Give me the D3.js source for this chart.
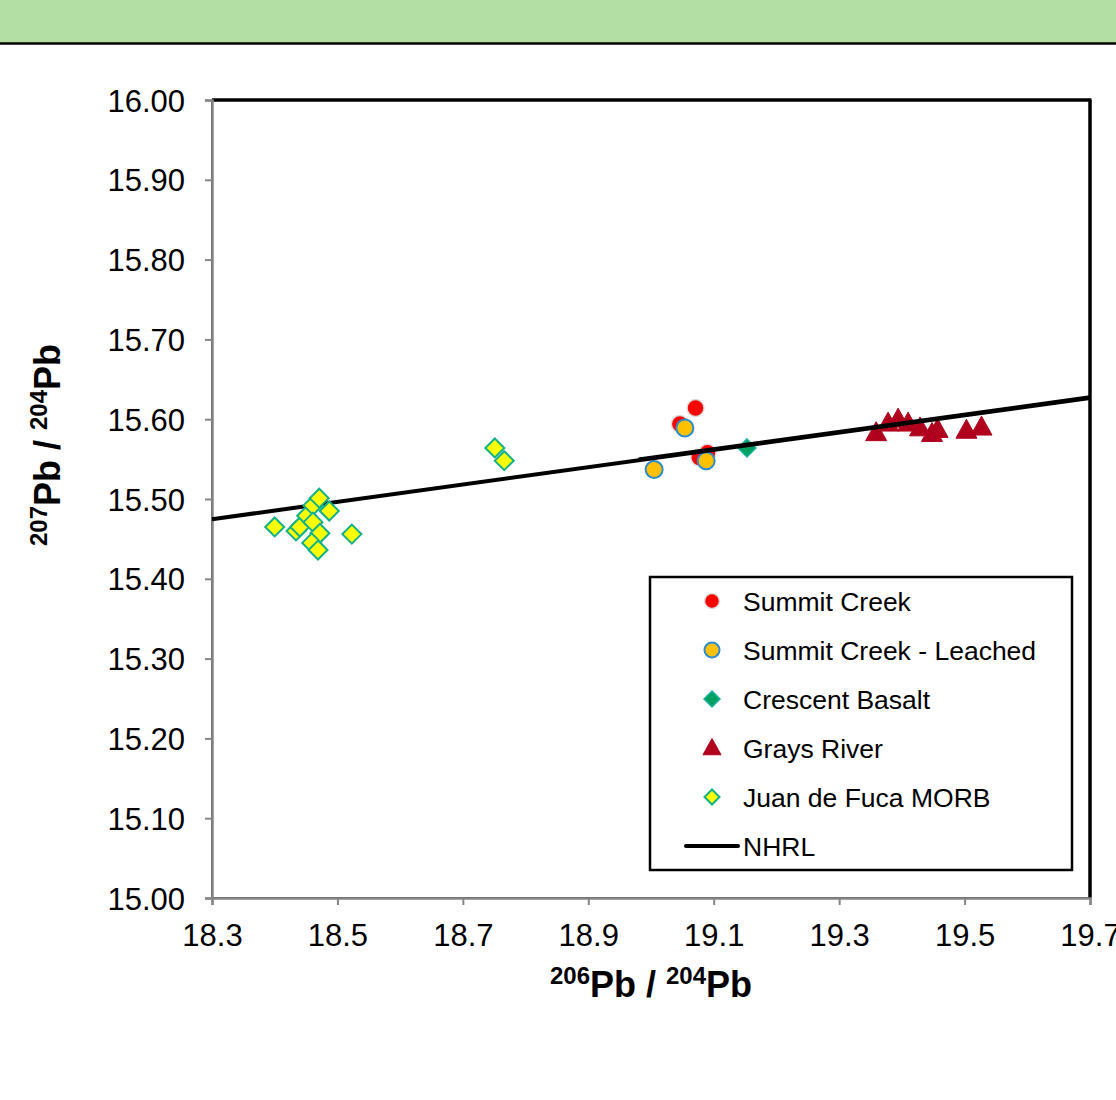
<!DOCTYPE html>
<html>
<head>
<meta charset="utf-8">
<script src="https://cdn.jsdelivr.net/npm/d3@7"></script>
<style>
  body { margin: 0; background: #fff; }
  text { font-family: "Liberation Sans", Arial, sans-serif; }
</style>
</head>
<body>
<div class="canva"></div>
<script>
// data
const xTicks = [18.3, 18.5, 18.7, 18.9, 19.1, 19.3, 19.5, 19.7];
const yTicks = [15.0, 15.1, 15.2, 15.3, 15.4, 15.5, 15.6, 15.7, 15.8, 15.9, 16.0];

const summitX = [19.071, 19.046, 19.090, 19.077];
const summitY = [15.614, 15.594, 15.558, 15.552];

const leachedX = [19.054, 19.005, 19.088];
const leachedY = [15.589, 15.537, 15.548];

const crescentX = [19.153];
const crescentY = [15.564];

const graysX = [19.359, 19.378, 19.394, 19.410, 19.429, 19.448, 19.457, 19.503, 19.527];
const graysY = [15.583, 15.595, 15.600, 15.595, 15.589, 15.582, 15.587, 15.586, 15.590];

const morbX = [18.400, 18.434, 18.440, 18.451, 18.461, 18.471, 18.487, 18.461, 18.472, 18.459, 18.469, 18.523, 18.751, 18.766];
const morbY = [15.465, 15.460, 15.465, 15.479, 15.492, 15.501, 15.485, 15.471, 15.457, 15.445, 15.436, 15.456, 15.564, 15.548];

// NHRL: 207/204 = 0.1084 * 206/204 + 13.491
const nhrlX = [18.3, 19.7];
const nhrlY = [15.4747, 15.6265];
const nhrlShortX = [18.98, 19.7];
const nhrlShortY = [15.5484, 15.6265];

const legendLabels = ["Summit Creek", "Summit Creek - Leached", "Crescent Basalt", "Grays River", "Juan de Fuca MORB", "NHRL"];

const svg = d3.select(".canva").append("svg")
  .attr("width", 1116)
  .attr("height", 1100);

// green banner on top
svg.append("rect").attr("x", 0).attr("y", 0).attr("width", 1116).attr("height", 43).attr("fill", "#b3dfa5");
svg.append("line").attr("x1", 0).attr("x2", 1116).attr("y1", 43.5).attr("y2", 43.5)
  .attr("stroke", "#000").attr("stroke-width", 2.5);

const plot = {left: 212, right: 1090, top: 100, bottom: 898};

const x = d3.scaleLinear().domain([18.3, 19.7]).range([plot.left, plot.right]);
const y = d3.scaleLinear().domain([15.0, 16.0]).range([plot.bottom, plot.top]);

// frame
svg.append("rect")
  .attr("x", plot.left).attr("y", plot.top)
  .attr("width", plot.right - plot.left).attr("height", plot.bottom - plot.top)
  .attr("fill", "none").attr("stroke", "#000").attr("stroke-width", 1.5);
svg.append("line").attr("x1", plot.left).attr("x2", plot.right + 1.5).attr("y1", plot.top).attr("y2", plot.top)
  .attr("stroke", "#000").attr("stroke-width", 3.5);
svg.append("line").attr("x1", plot.right).attr("x2", plot.right).attr("y1", plot.top).attr("y2", plot.bottom)
  .attr("stroke", "#000").attr("stroke-width", 3.5);

// axes
const xAxis = d3.axisBottom(x).tickValues(xTicks).tickFormat(d3.format(".1f")).tickSizeOuter(0).tickSize(7).tickPadding(19);
const yAxis = d3.axisLeft(y).tickValues(yTicks).tickFormat(d3.format(".2f")).tickSizeOuter(0).tickSize(7).tickPadding(20);

const gx = svg.append("g").attr("transform", `translate(0, ${plot.bottom})`).call(xAxis);
const gy = svg.append("g").attr("transform", `translate(${plot.left}, 0)`).call(yAxis);

[gx, gy].forEach(g => {
  g.select(".domain").attr("stroke", "#868686").attr("stroke-width", 2.5);
  g.selectAll(".tick line").attr("stroke", "#868686").attr("stroke-width", 2);
  g.selectAll(".tick text").attr("fill", "#000").style("font-size", "31px")
    .style("font-family", "Liberation Sans, Arial, sans-serif");
});
gy.selectAll(".tick text").attr("dy", "0.36em");

// axis titles
const xt = svg.append("text")
  .attr("x", 651).attr("y", 997)
  .attr("text-anchor", "middle")
  .style("font-weight", "bold").style("font-size", "36px");
xt.append("tspan").text("206").style("font-size", "24px").attr("dy", "-13");
xt.append("tspan").text("Pb / ").attr("dy", "13");
xt.append("tspan").text("204").style("font-size", "24px").attr("dy", "-13");
xt.append("tspan").text("Pb").attr("dy", "13");

const yt = svg.append("text")
  .attr("transform", "translate(60, 445) rotate(-90)")
  .attr("text-anchor", "middle")
  .style("font-weight", "bold").style("font-size", "36px");
yt.append("tspan").text("207").style("font-size", "24px").attr("dy", "-13");
yt.append("tspan").text("Pb / ").attr("dy", "13");
yt.append("tspan").text("204").style("font-size", "24px").attr("dy", "-13");
yt.append("tspan").text("Pb").attr("dy", "13");

// symbols
const diamond = s => `M0,${-s}L${s},0L0,${s}L${-s},0Z`;
const triangle = s => `M0,${-s * 1.05}L${s},${s * 0.75}L${-s},${s * 0.75}Z`;

const pts = (xs, ys) => xs.map((d, i) => [d, ys[i]]);

// Summit Creek
svg.append("g").selectAll("circle")
  .data(pts(summitX, summitY))
  .enter().append("circle")
  .attr("cx", d => x(d[0])).attr("cy", d => y(d[1]))
  .attr("r", 8.5)
  .attr("fill", "#ff0000").attr("stroke", "#dcdcdc").attr("stroke-width", 1.5);

// Summit Creek - Leached
svg.append("g").selectAll("circle")
  .data(pts(leachedX, leachedY))
  .enter().append("circle")
  .attr("cx", d => x(d[0])).attr("cy", d => y(d[1]))
  .attr("r", 8.5)
  .attr("fill", "#ffc000").attr("stroke", "#2a8ccf").attr("stroke-width", 2);

// Crescent Basalt
svg.append("g").selectAll("path")
  .data(pts(crescentX, crescentY))
  .enter().append("path")
  .attr("transform", d => `translate(${x(d[0])}, ${y(d[1])})`)
  .attr("d", diamond(9))
  .attr("fill", "#00a060").attr("stroke", "#1fb0a0").attr("stroke-width", 1.5);

// Grays River
svg.append("g").selectAll("path")
  .data(pts(graysX, graysY))
  .enter().append("path")
  .attr("transform", d => `translate(${x(d[0])}, ${y(d[1])})`)
  .attr("d", triangle(10.5))
  .attr("fill", "#b0001e").attr("stroke", "#b0001e").attr("stroke-width", 1);

// NHRL line
const line = d3.line().x(d => x(d[0])).y(d => y(d[1]));
svg.append("path").datum(pts(nhrlX, nhrlY))
  .attr("d", line).attr("fill", "none").attr("stroke", "#000").attr("stroke-width", 4);
svg.append("path").datum(pts(nhrlShortX, nhrlShortY))
  .attr("d", line).attr("fill", "none").attr("stroke", "#000").attr("stroke-width", 4)
  .attr("transform", "translate(0, -0.8)");

// Juan de Fuca MORB
svg.append("g").selectAll("path")
  .data(pts(morbX, morbY))
  .enter().append("path")
  .attr("transform", d => `translate(${x(d[0])}, ${y(d[1])})`)
  .attr("d", diamond(9.5))
  .attr("fill", "#ffff00").attr("stroke", "#10b08a").attr("stroke-width", 2);

// legend
const legend = svg.append("g").attr("transform", "translate(650, 577)");
legend.append("rect")
  .attr("width", 422).attr("height", 293)
  .attr("fill", "#fff").attr("stroke", "#000").attr("stroke-width", 2.5);

const rowY = i => 24 + i * 49;
const mx = 62;

legend.append("circle").attr("cx", mx).attr("cy", rowY(0)).attr("r", 7.5)
  .attr("fill", "#ff0000").attr("stroke", "#dcdcdc").attr("stroke-width", 1.5);
legend.append("circle").attr("cx", mx).attr("cy", rowY(1)).attr("r", 7.5)
  .attr("fill", "#ffc000").attr("stroke", "#2a8ccf").attr("stroke-width", 2);
legend.append("path").attr("transform", `translate(${mx}, ${rowY(2)})`).attr("d", diamond(8))
  .attr("fill", "#00a060").attr("stroke", "#1fb0a0").attr("stroke-width", 1.5);
legend.append("path").attr("transform", `translate(${mx}, ${rowY(3)})`).attr("d", triangle(9))
  .attr("fill", "#b0001e").attr("stroke", "#b0001e").attr("stroke-width", 1);
legend.append("path").attr("transform", `translate(${mx}, ${rowY(4)})`).attr("d", diamond(7.5))
  .attr("fill", "#ffff00").attr("stroke", "#10b08a").attr("stroke-width", 2);
legend.append("line").attr("x1", 36).attr("x2", 88).attr("y1", rowY(5)).attr("y2", rowY(5))
  .attr("stroke", "#000").attr("stroke-width", 4).attr("stroke-linecap", "round");

legend.selectAll("text.lab")
  .data(legendLabels)
  .enter().append("text")
  .attr("class", "lab")
  .attr("x", 93)
  .attr("y", (d, i) => rowY(i))
  .attr("dy", "0.36em")
  .style("font-size", "26.5px")
  .text(d => d);
</script>
</body>
</html>
